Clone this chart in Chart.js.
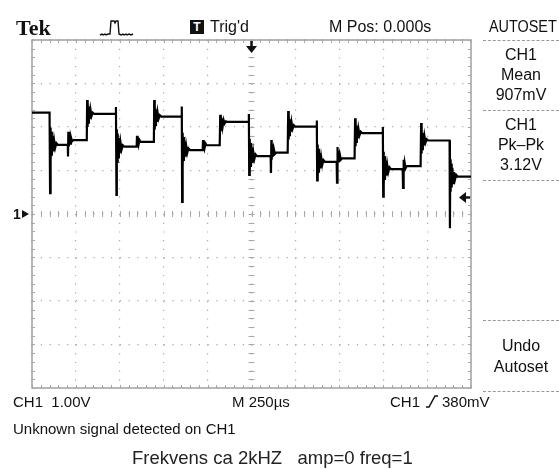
<!DOCTYPE html>
<html><head><meta charset="utf-8">
<script src="https://cdn.jsdelivr.net/npm/chart.js@4.4.1/dist/chart.umd.min.js"></script>
<style>
html,body{margin:0;padding:0;background:#fff;}
#wrap{position:relative;width:559px;height:469px;overflow:hidden;font-family:"Liberation Sans",Arial,sans-serif;color:#111;}
canvas{position:absolute;left:0;top:0;}
.t{position:absolute;white-space:pre;line-height:1;}
.c{text-align:center;left:483px;width:76px;font-size:16px;}
.sep{position:absolute;left:483px;width:76px;height:0;border-top:1px dashed #999;}
</style></head><body>
<div id="wrap">
<canvas id="c" width="559" height="469"></canvas>
<div class="t" style="left:16px;top:17px;font-family:'Liberation Serif',serif;font-weight:bold;font-size:22px;">Tek</div>
<svg style="position:absolute;left:99px;top:18px" width="36" height="22"><polyline points="1,17 3,16 4,17 6,16 7,17 9,16 11,16 12,3 15,3 16,5 17,3 19,3 20,16 22,17 24,16 25,17 27,16 28,17 30,16 32,17 34,16" fill="none" stroke="#111" stroke-width="1.4"/></svg>
<div style="position:absolute;left:190px;top:20px;width:14px;height:14px;background:#111;color:#fff;font-size:12px;font-weight:bold;text-align:center;line-height:14px;">T</div>
<div class="t" style="left:210px;top:19px;font-size:16px;">Trig'd</div>
<div class="t" style="left:329px;top:19px;font-size:16px;">M Pos: 0.000s</div>
<div class="t" style="left:489px;top:19px;font-size:16px;transform:scaleX(0.9);transform-origin:0 0;">AUTOSET</div>
<div class="sep" style="top:40px"></div>
<div class="t c" style="top:47px">CH1</div>
<div class="t c" style="top:67px">Mean</div>
<div class="t c" style="top:87px">907mV</div>
<div class="sep" style="top:110px"></div>
<div class="t c" style="top:117px">CH1</div>
<div class="t c" style="top:137px">Pk–Pk</div>
<div class="t c" style="top:157px">3.12V</div>
<div class="sep" style="top:180px"></div>
<div class="sep" style="top:320px"></div>
<div class="t c" style="top:338px">Undo</div>
<div class="t c" style="top:359px">Autoset</div>
<div class="sep" style="top:391px"></div>
<div class="t" style="left:13px;top:394px;font-size:15px;">CH1  1.00V</div>
<div class="t" style="left:232px;top:394px;font-size:15px;">M 250µs</div>
<div class="t" style="left:390px;top:394px;font-size:15px;">CH1</div>
<svg style="position:absolute;left:425px;top:393px" width="14" height="16"><polyline points="1,14 4,14 10,3 13,3" fill="none" stroke="#111" stroke-width="1.5"/></svg>
<div class="t" style="left:442px;top:394px;font-size:15px;">380mV</div>
<div class="t" style="left:13px;top:421px;font-size:15px;">Unknown signal detected on CH1</div>
<div class="t" style="left:132px;top:449px;font-size:18.5px;color:#222;">Frekvens ca 2kHZ   amp=0 freq=1</div>
<div class="t" style="left:13px;top:207px;font-size:14px;font-weight:bold;">1</div>
</div>
<script>
// Time axis in microseconds (250 µs/div), volts (1 V/div)
const timeTicks = [-1250,-1000,-750,-500,-250,0,250,500,750,1000,1250];
const voltTicks = [-4,-3,-2,-1,0,1,2,3,4];
const groundLevel = 0;
const triggerTime = 0;
const triggerLevel = 0.38;
const traceTime = [
 -1250,-1150,-1147,-1145,-1143,-1140,-1137,-1133,-1129,-1124,-1118,-1111,-1103,-1046,
 -1045,-1043,-1040,-1037,-1033,-1028,-1022,-1014,-938,
 -936,-934,-932,-929,-926,-922,-917,-911,-904,-896,-775,-772,
 -769,-767,-765,-762,-759,-755,-751,-746,-740,-733,-725,-654,
 -652,-650,-647,-643,-638,-632,-556,
 -554,-552,-550,-547,-544,-540,-535,-529,-522,-514,-399,-397,
 -395,-393,-391,-388,-385,-381,-377,-372,-366,-359,-351,-278,
 -276,-274,-271,-267,-262,-256,-181,
 -178,-176,-174,-171,-168,-164,-159,-153,-146,-138,-17,-15,
 -13,-11,-9,-6,-3,1,5,10,16,23,31,109,
 111,113,115,118,122,127,133,140,206,
 209,211,213,216,219,223,228,234,241,249,370,372,
 374,376,378,381,384,388,392,397,403,410,418,485,
 487,489,491,494,498,503,509,516,587,
 590,592,594,597,600,604,609,615,622,630,746,748,
 750,752,754,757,760,764,768,773,779,786,794,861,
 863,865,868,872,877,883,963,
 966,968,970,973,976,980,985,991,998,1006,1128,
 1130,1132,1134,1137,1140,1144,1148,1153,1159,1166,1174,1250];
const traceVolt = [
 2.33,2.33,0.48,1.99,1.24,1.89,1.34,1.79,1.44,1.69,1.52,1.63,1.59,1.59,
 1.32,1.89,1.55,1.82,1.62,1.76,1.67,1.70,1.70,
 2.62,2.00,2.55,2.10,2.47,2.18,2.40,2.25,2.33,2.30,2.30,2.46,
 0.44,1.95,1.20,1.85,1.30,1.75,1.40,1.65,1.48,1.58,1.55,1.55,
 1.80,1.55,1.75,1.60,1.70,1.66,1.66,
 2.62,1.94,2.49,2.04,2.41,2.12,2.34,2.19,2.27,2.24,2.24,2.47,
 0.28,1.87,1.12,1.77,1.22,1.67,1.32,1.57,1.40,1.51,1.47,1.47,
 1.70,1.45,1.67,1.52,1.62,1.58,1.58,
 2.28,1.90,2.25,1.96,2.20,2.02,2.16,2.08,2.13,2.12,2.12,2.30,
 0.90,1.73,0.98,1.63,1.08,1.53,1.18,1.43,1.26,1.37,1.33,1.33,
 0.94,1.70,1.25,1.60,1.32,1.50,1.38,1.41,1.41,
 2.37,1.71,2.26,1.81,2.18,1.89,2.11,1.96,2.04,2.01,2.01,2.15,
 0.77,1.60,0.85,1.50,0.95,1.40,1.05,1.30,1.13,1.24,1.20,1.20,
 0.72,1.54,1.12,1.45,1.20,1.37,1.25,1.28,1.28,
 2.20,1.56,2.11,1.66,2.03,1.74,1.96,1.81,1.89,1.86,1.86,2.00,
 0.40,1.43,0.68,1.33,0.78,1.23,0.88,1.13,0.96,1.07,1.03,1.03,
 0.60,1.25,0.98,1.18,1.05,1.10,1.10,
 2.09,1.39,1.94,1.49,1.86,1.57,1.79,1.64,1.72,1.69,1.69,
 -0.33,1.26,0.51,1.16,0.61,1.06,0.71,0.96,0.79,0.90,0.86,0.86];

const points = traceTime.map((t,i)=>({x:t,y:traceVolt[i]}));
const GRID = '#a8a8a8';

const graticule = {
  id:'graticule',
  beforeDatasetsDraw(chart){
    const {ctx, chartArea:a, scales:{x,y}} = chart;
    ctx.save();
    ctx.strokeStyle = '#a0a0a0';
    ctx.lineWidth = 1.5;
    ctx.strokeRect(a.left, a.top, a.right-a.left, a.bottom-a.top);
    ctx.lineWidth = 1;
    ctx.strokeStyle = GRID;
    const xMinor = (timeTicks[1]-timeTicks[0])/5;
    const yMinor = (voltTicks[1]-voltTicks[0])/5;
    const cx = x.getPixelForValue(triggerTime), cy = y.getPixelForValue(groundLevel);
    ctx.beginPath();
    for(let t=timeTicks[0]; t<=timeTicks[timeTicks.length-1]+1; t+=xMinor){
      const px = Math.round(x.getPixelForValue(t))+0.5;
      ctx.moveTo(px,a.top); ctx.lineTo(px,a.top+3);
      ctx.moveTo(px,a.bottom); ctx.lineTo(px,a.bottom-3);
      ctx.moveTo(px,cy-3); ctx.lineTo(px,cy+3);
    }
    for(let v=voltTicks[0]; v<=voltTicks[voltTicks.length-1]+0.01; v+=yMinor){
      const py = Math.round(y.getPixelForValue(v))+0.5;
      ctx.moveTo(a.left,py); ctx.lineTo(a.left+3,py);
      ctx.moveTo(a.right,py); ctx.lineTo(a.right-3,py);
      ctx.moveTo(cx-3,py); ctx.lineTo(cx+3,py);
    }
    ctx.stroke();
    ctx.restore();
  },
  afterDatasetsDraw(chart){
    const {ctx, chartArea:a, scales:{x,y}} = chart;
    ctx.save();
    ctx.fillStyle = '#111'; ctx.strokeStyle='#111';
    const tx = x.getPixelForValue(triggerTime);
    ctx.lineWidth = 2.5;
    ctx.beginPath(); ctx.moveTo(tx,a.top+1); ctx.lineTo(tx,a.top+8); ctx.stroke();
    ctx.beginPath(); ctx.moveTo(tx-5.5,a.top+6); ctx.lineTo(tx+5.5,a.top+6); ctx.lineTo(tx,a.top+13); ctx.closePath(); ctx.fill();
    const ty = y.getPixelForValue(triggerLevel);
    ctx.beginPath(); ctx.moveTo(a.right-1,ty); ctx.lineTo(a.right-7,ty); ctx.stroke();
    ctx.beginPath(); ctx.moveTo(a.right-5,ty-5.5); ctx.lineTo(a.right-5,ty+5.5); ctx.lineTo(a.right-12,ty); ctx.closePath(); ctx.fill();
    const gy = y.getPixelForValue(groundLevel);
    ctx.beginPath(); ctx.moveTo(a.left-10,gy-4); ctx.lineTo(a.left-10,gy+4); ctx.lineTo(a.left-3,gy); ctx.closePath(); ctx.fill();
    ctx.restore();
  }
};

new Chart(document.getElementById('c'), {
  type:'scatter',
  data:{datasets:[{data:points, showLine:true, borderColor:'#000', backgroundColor:'#000', borderWidth:2.2, pointRadius:0, tension:0}]},
  options:{
    responsive:false, animation:false, events:[],
    layout:{padding:{left:32,top:40,right:88,bottom:81}},
    plugins:{legend:{display:false}, tooltip:{enabled:false}},
    scales:{
      x:{type:'linear', min:timeTicks[0], max:timeTicks[timeTicks.length-1],
         afterBuildTicks(s){ s.ticks = timeTicks.map(v=>({value:v})); },
         ticks:{display:false},
         grid:{color:GRID, lineWidth:1.2, drawTicks:false, borderDash:[1.2,7.5]},
         border:{display:false, dash:[1.2,7.5]}},
      y:{type:'linear', min:voltTicks[0], max:voltTicks[voltTicks.length-1],
         afterBuildTicks(s){ s.ticks = voltTicks.map(v=>({value:v})); },
         ticks:{display:false},
         grid:{color:GRID, lineWidth:1.2, drawTicks:false, borderDash:[1.2,7.58]},
         border:{display:false, dash:[1.2,7.58]}}
    }
  },
  plugins:[graticule]
});
</script>
</body></html>
